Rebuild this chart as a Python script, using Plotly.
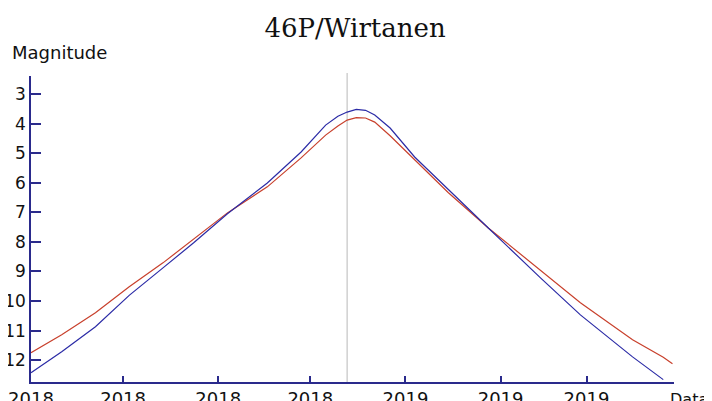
import plotly.graph_objects as go

dates = ["2018-09-01", "2018-09-11", "2018-09-22", "2018-10-03", "2018-10-14",
         "2018-10-24", "2018-11-04", "2018-11-17", "2018-11-28", "2018-12-06",
         "2018-12-10", "2018-12-13", "2018-12-16", "2018-12-19", "2018-12-22",
         "2018-12-27", "2019-01-04", "2019-01-15", "2019-01-28", "2019-02-14",
         "2019-02-27", "2019-03-16", "2019-03-26", "2019-03-29"]
mag_blue = [12.43, 11.72, 10.87, 9.81, 8.88,
            8.03, 7.05, 6.01, 4.96, 4.05,
            3.75, 3.61, 3.52, 3.55, 3.71,
            4.15, 5.13, 6.24, 7.53, 9.22,
            10.47, 11.89, 12.66, None]
mag_red = [11.75, 11.14, 10.40, 9.52, 8.71,
           7.92, 7.02, 6.14, 5.16, 4.39,
           4.08, 3.88, 3.80, 3.81, 3.95,
           4.41, 5.23, 6.34, 7.53, 8.95,
           10.06, 11.31, 11.90, 12.12]
marker_date = "2018-12-13"

axis_col = "#2a2a8c"

fig = go.Figure()
fig.add_trace(go.Scatter(x=dates, y=mag_red, mode="lines",
                         line=dict(color="#c8402c", width=1.2), connectgaps=False))
fig.add_trace(go.Scatter(x=dates, y=mag_blue, mode="lines",
                         line=dict(color="#2b2ba6", width=1.2), connectgaps=False))

fig.add_shape(type="line", xref="x", yref="paper", x0=marker_date, x1=marker_date,
              y0=0, y1=1.01, line=dict(color="#c4c4c4", width=1.2), layer="below")

# page body has an 8px margin, so the figure is a bit smaller than the window
fig.update_layout(
    width=704, height=393,
    margin=dict(l=23, r=38, t=68, b=19, autoexpand=False),
    paper_bgcolor="white", plot_bgcolor="white",
    showlegend=False,
    title=dict(text="46P/Wirtanen", x=0.493, xanchor="center", y=0.949, yanchor="middle",
               font=dict(family="DejaVu Serif", size=26, color="#111111")),
    font=dict(family="DejaVu Sans", size=18, color="#111111"),
    xaxis=dict(type="date", range=["2018-09-01", "2019-03-29 12:00"],
               tick0="2018-09-01", dtick="M1", tickformat="%Y",
               showgrid=False, zeroline=False, automargin=False,
               showline=True, linecolor=axis_col, linewidth=1.5,
               ticks="inside", ticklen=6, tickcolor=axis_col, tickwidth=1.5,
               ticklabelstandoff=0),
    yaxis=dict(range=[12.74, 2.39], tickvals=list(range(3, 13)),
               tickfont=dict(size=17),
               showgrid=False, zeroline=False, automargin=False,
               showline=True, linecolor=axis_col, linewidth=1.5,
               ticks="inside", ticklen=10, tickcolor=axis_col, tickwidth=1.5,
               ticklabelstandoff=0),
    annotations=[
        dict(text="Magnitude", xref="paper", yref="paper", x=-0.033, y=1.078,
             xanchor="left", yanchor="middle", showarrow=False,
             font=dict(family="DejaVu Sans", size=18, color="#111111")),
        dict(text="Data", xref="paper", yref="paper", x=0.9907, y=-0.02,
             xanchor="left", yanchor="top", showarrow=False,
             font=dict(family="DejaVu Sans", size=16, color="#111111")),
    ],
)

fig.write_html("out.html")
